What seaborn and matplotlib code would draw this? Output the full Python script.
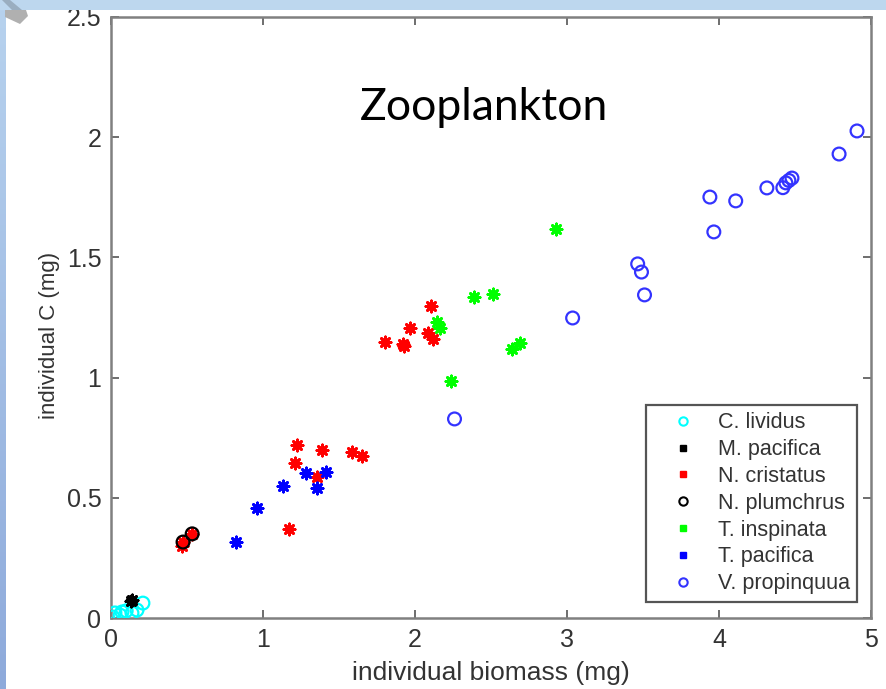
import numpy as np
import pandas as pd
import matplotlib
matplotlib.use("Agg")
import matplotlib.pyplot as plt
import seaborn as sns
from matplotlib.lines import Line2D
from matplotlib.patches import Rectangle, Polygon
from matplotlib.colors import LinearSegmentedColormap

# ---------------- data ----------------
species = ["C. lividus", "M. pacifica", "N. cristatus", "N. plumchrus",
           "T. inspinata", "T. pacifica", "V. propinquua"]

c_lividus_x = [0.013, 0.026, 0.06, 0.072, 0.10, 0.138, 0.171, 0.21]
c_lividus_y = [0.004, 0.021, 0.012, 0.025, 0.03, 0.021, 0.033, 0.062]

m_pacifica_x = [0.13, 0.138]
m_pacifica_y = [0.07, 0.075]

n_cristatus_x = [0.468, 0.474, 0.534, 1.173, 1.21, 1.225, 1.357, 1.39, 1.588, 1.653,
                 1.805, 1.92, 1.93, 1.97, 2.088, 2.108, 2.12]
n_cristatus_y = [0.30, 0.316, 0.35, 0.37, 0.645, 0.72, 0.587, 0.70, 0.69, 0.674,
                 1.148, 1.14, 1.13, 1.206, 1.186, 1.298, 1.16]

n_plumchrus_x = [0.474, 0.534]
n_plumchrus_y = [0.316, 0.35]

t_inspinata_x = [2.148, 2.167, 2.24, 2.39, 2.516, 2.635, 2.688, 2.93]
t_inspinata_y = [1.231, 1.206, 0.986, 1.335, 1.348, 1.119, 1.144, 1.618]

t_pacifica_x = [0.823, 0.96, 1.133, 1.285, 1.357, 1.416]
t_pacifica_y = [0.316, 0.458, 0.549, 0.603, 0.541, 0.607]

v_propinqua_x = [2.26, 3.037, 3.465, 3.49, 3.51, 3.94, 3.966, 4.11, 4.315,
                 4.42, 4.44, 4.46, 4.48, 4.79, 4.908]
v_propinqua_y = [0.828, 1.248, 1.473, 1.439, 1.344, 1.751, 1.606, 1.735, 1.789,
                 1.79, 1.81, 1.82, 1.83, 1.93, 2.026]

x_ticks = [0, 1, 2, 3, 4, 5]
y_ticks = [0, 0.5, 1, 1.5, 2, 2.5]
y_tick_labels = ["0", "0.5", "1", "1.5", "2", "2.5"]

title_text = "Zooplankton"
x_label = "individual biomass (mg)"
y_label = "individual C (mg)"

xs = [c_lividus_x, m_pacifica_x, n_cristatus_x, n_plumchrus_x,
      t_inspinata_x, t_pacifica_x, v_propinqua_x]
ys = [c_lividus_y, m_pacifica_y, n_cristatus_y, n_plumchrus_y,
      t_inspinata_y, t_pacifica_y, v_propinqua_y]
df = pd.concat([pd.DataFrame({"biomass": x, "carbon": y, "species": s})
                for s, x, y in zip(species, xs, ys)], ignore_index=True)

# ---------------- styles ----------------
colors = {"C. lividus": "#00ffff", "M. pacifica": "#000000", "N. cristatus": "#ff0000",
          "N. plumchrus": "#000000", "T. inspinata": "#00ff00", "T. pacifica": "#0000ff",
          "V. propinquua": "#3333ff"}
open_circle = {"C. lividus", "N. plumchrus", "V. propinquua"}
star = (8, 2, 0)

sns.set_theme(style="white")
plt.rcParams["font.family"] = ["Liberation Sans", "DejaVu Sans"]

fig = plt.figure(figsize=(8.87, 6.89), dpi=100)
fig.patch.set_facecolor("white")
W, H = 887, 689

# slide decoration
fig.patches.append(Rectangle((0, 1 - 10 / H), 1, 10 / H, transform=fig.transFigure,
                             facecolor="#bdd7ee", edgecolor="none", zorder=0))
gax = fig.add_axes([0, 0, 6 / W, 1 - 10 / H])
grad = np.linspace(0, 1, 256).reshape(-1, 1)
cm = LinearSegmentedColormap.from_list("g", ["#b7d2ee", "#8eaadb"])
gax.imshow(grad, aspect="auto", cmap=cm, origin="upper")
gax.set_axis_off()
fig.patches.append(Polygon([[5 / W, 1 - 10 / H], [26 / W, 1 - 10 / H], [28 / W, 1 - 16 / H],
                            [20 / W, 1 - 24 / H], [5 / W, 1 - 17 / H]],
                           closed=True, transform=fig.transFigure,
                           facecolor="#b0b0b0", edgecolor="none", zorder=1))
fig.patches.append(Polygon([[2 / W, 1.0], [10 / W, 1.0], [22 / W, 1 - 10 / H], [12 / W, 1 - 10 / H]],
                           closed=True, transform=fig.transFigure,
                           facecolor="#9aaec0", edgecolor="none", zorder=1))

ax = fig.add_axes([111 / W, 1 - 618 / H, 760 / W, 601 / H])
ax.set_facecolor("white")

for sp in species:
    sub = df[df["species"] == sp]
    c = colors[sp]
    if sp in open_circle:
        sns.scatterplot(data=sub, x="biomass", y="carbon", ax=ax, marker="o", s=85,
                        color=c, facecolor="none", edgecolor=c, linewidth=1.6,
                        legend=False, zorder=3)
    else:
        sns.scatterplot(data=sub, x="biomass", y="carbon", ax=ax, marker=star, s=65,
                        color=c, edgecolor=c, linewidth=2.0, legend=False, zorder=3)

ax.set_xlim(0, 5)
ax.set_ylim(0, 2.5)
ax.set_xticks(x_ticks)
ax.set_xticklabels([str(t) for t in x_ticks])
ax.set_yticks(y_ticks)
ax.set_yticklabels(y_tick_labels)

txt_color = "#333333"
ax.tick_params(axis="both", which="both", direction="in", length=6, width=1.2,
               color="#555555", labelsize=18, labelcolor=txt_color,
               top=True, right=True, bottom=True, left=True)
ax.tick_params(axis="x", pad=7)
ax.tick_params(axis="y", pad=7)
for s in ax.spines.values():
    s.set_visible(True)
    s.set_color("#808080")
    s.set_linewidth(1.8)

ax.set_xlabel(x_label, fontsize=19, color=txt_color)
ax.set_ylabel(y_label, fontsize=16, color=txt_color)
ax.xaxis.set_label_coords(0.5, -0.071)
ax.yaxis.set_label_coords(-0.067, 0.47)

# legend
handles = []
for sp in species:
    c = colors[sp]
    if sp in open_circle:
        handles.append(Line2D([], [], linestyle="none", marker="o", markersize=6,
                              markerfacecolor="none", markeredgecolor=c, markeredgewidth=1.5))
    else:
        handles.append(Line2D([], [], linestyle="none", marker="s", markersize=4,
                              markerfacecolor=c, markeredgecolor=c, markeredgewidth=1))
leg = ax.legend(handles, species, loc="lower right", bbox_to_anchor=(0.982, 0.027),
                borderaxespad=0, fontsize=15.5, frameon=True, fancybox=False,
                labelspacing=0.27, handlelength=2.74, handletextpad=0.26,
                borderpad=0.35, labelcolor=txt_color)
leg.get_frame().set_edgecolor("#555555")
leg.get_frame().set_linewidth(1.6)
leg.get_frame().set_facecolor("white")
leg.get_frame().set_alpha(1)

fig.text(484 / W, 1 - 120 / H, title_text, fontsize=32, family=["Lato", "DejaVu Sans"],
         ha="center", va="baseline", color="black")

fig.savefig("out.png", dpi=100, facecolor="white")
